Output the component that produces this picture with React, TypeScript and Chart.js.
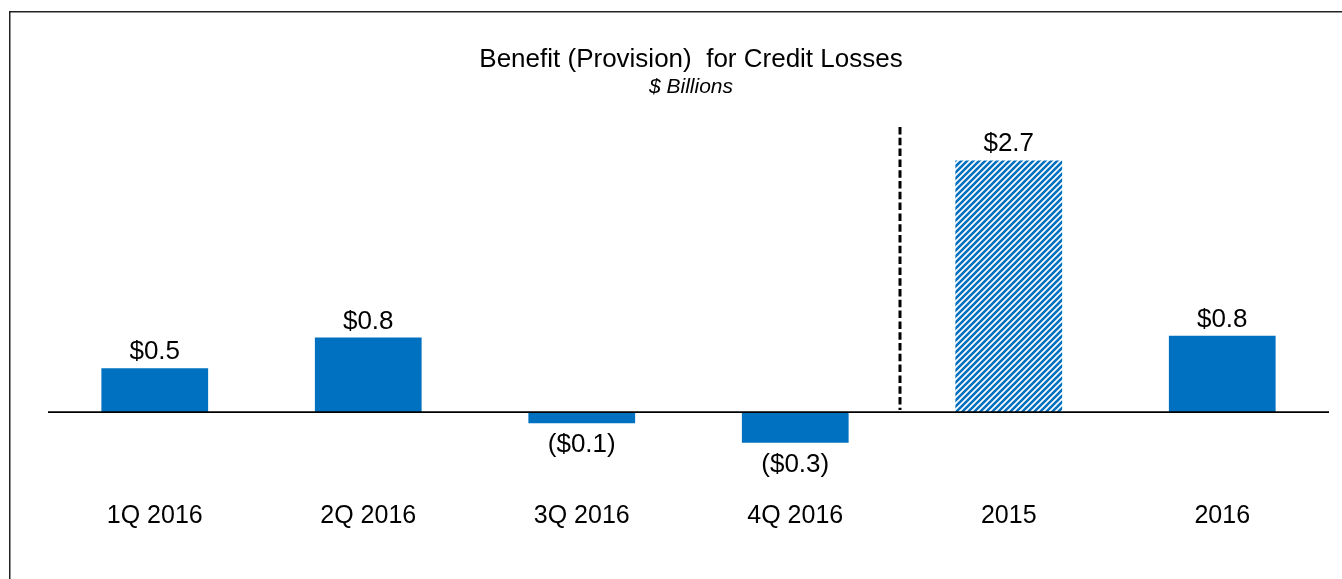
import React, { useEffect, useRef } from "react";
import { Chart, registerables } from "chart.js";

Chart.register(...registerables);

const categories = ["1Q 2016", "2Q 2016", "3Q 2016", "4Q 2016", "2015", "2016"];
const values = [0.47, 0.8, -0.12, -0.33, 2.7, 0.82];
const valueLabels = ["$0.5", "$0.8", "($0.1)", "($0.3)", "$2.7", "$0.8"];
const hatched = [false, false, false, false, true, false];
const dividerAfterIndex = 3;
const titleText = "Benefit (Provision)  for Credit Losses";
const subtitleText = "$ Billions";

const BLUE = "#0070C0";
const FONT = "'Liberation Sans', Arial, Helvetica, sans-serif";

function makeHatch(color: string): CanvasPattern | string {
  const s = 6;
  const c = document.createElement("canvas");
  c.width = s;
  c.height = s;
  const g = c.getContext("2d");
  if (!g) return color;
  g.fillStyle = "#ffffff";
  g.fillRect(0, 0, s, s);
  g.strokeStyle = color;
  g.lineWidth = 2.6;
  g.beginPath();
  g.moveTo(-1, s + 1);
  g.lineTo(s + 1, -1);
  g.moveTo(-1, 1);
  g.lineTo(1, -1);
  g.moveTo(s - 1, s + 1);
  g.lineTo(s + 1, s - 1);
  g.stroke();
  return g.createPattern(c, "repeat") || color;
}

const decorPlugin = {
  id: "decor",
  afterDatasetsDraw(chart: any) {
    const { ctx, chartArea, scales } = chart;
    const x = scales.x;
    const y = scales.y;
    ctx.save();
    const y0 = y.getPixelForValue(0);

    // zero line
    ctx.strokeStyle = "#000";
    ctx.lineWidth = 1.6;
    ctx.beginPath();
    ctx.moveTo(chartArea.left, y0);
    ctx.lineTo(chartArea.right, y0);
    ctx.stroke();

    // dashed divider
    const xd =
      (x.getPixelForValue(dividerAfterIndex) + x.getPixelForValue(dividerAfterIndex + 1)) / 2 - 2;
    ctx.setLineDash([7.5, 3.3]);
    ctx.lineWidth = 3;
    ctx.beginPath();
    ctx.moveTo(xd, chartArea.top + 2);
    ctx.lineTo(xd, y0 - 2);
    ctx.stroke();
    ctx.setLineDash([]);

    // value labels
    ctx.font = `26px ${FONT}`;
    ctx.fillStyle = "#000";
    ctx.textAlign = "center";
    ctx.textBaseline = "alphabetic";
    const meta = chart.getDatasetMeta(0);
    meta.data.forEach((bar: any, i: number) => {
      if (values[i] >= 0) {
        ctx.fillText(valueLabels[i], bar.x, bar.y - 9);
      } else {
        ctx.fillText(valueLabels[i], bar.x, bar.y + 29);
      }
    });

    // title
    const cx = 691;
    ctx.font = `26px ${FONT}`;
    ctx.fillText(titleText, cx, 67);
    ctx.font = `italic 21px ${FONT}`;
    ctx.fillText(subtitleText, cx, 93);

    // frame
    ctx.strokeStyle = "#222";
    ctx.lineWidth = 1.5;
    ctx.beginPath();
    ctx.moveTo(9.75, chart.height + 2);
    ctx.lineTo(9.75, 11.75);
    ctx.lineTo(chart.width + 2, 11.75);
    ctx.stroke();
    ctx.restore();
  },
};

export default function App() {
  const ref = useRef<HTMLCanvasElement | null>(null);

  useEffect(() => {
    if (!ref.current) return;
    const hatch = makeHatch(BLUE);
    const colors = hatched.map((h) => (h ? hatch : BLUE));
    const chart = new Chart(ref.current, {
      type: "bar",
      data: {
        labels: categories,
        datasets: [
          {
            data: values,
            backgroundColor: colors as any,
            borderWidth: 0,
            barPercentage: 0.5,
            categoryPercentage: 1.0,
          },
        ],
      },
      options: {
        animation: false,
        responsive: false,
        devicePixelRatio: 1,
        layout: { padding: { top: 125, left: 48, right: 13, bottom: 42 } },
        plugins: {
          legend: { display: false },
          tooltip: { enabled: false },
          title: { display: false },
        },
        scales: {
          x: {
            grid: { display: false, drawTicks: false },
            border: { display: false },
            ticks: {
              color: "#000",
              padding: 8,
              font: { family: FONT, size: 25, lineHeight: 1.0 },
            },
          },
          y: {
            display: false,
            min: -0.9,
            max: 3.08,
          },
        },
      },
      plugins: [decorPlugin],
    });
    return () => chart.destroy();
  }, []);

  return (
    <div style={{ position: "fixed", left: 0, top: 0, width: 1342, height: 579, background: "#fff" }}>
      <canvas ref={ref} width={1342} height={579} style={{ width: 1342, height: 579, display: "block" }} />
    </div>
  );
}
